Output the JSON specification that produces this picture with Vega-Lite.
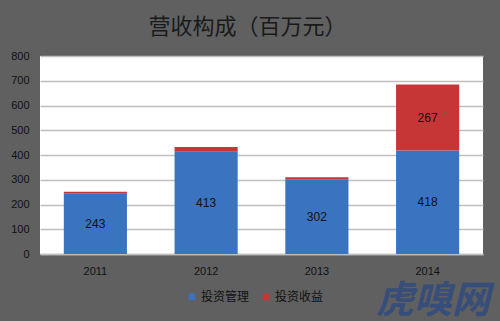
{
  "$schema": "https://vega.github.io/schema/vega-lite/v6.json",
  "width": 443,
  "height": 198,
  "autosize": {"type": "none"},
  "padding": {"left": 40, "top": 56, "right": 17, "bottom": 67},
  "background": "#606060",
  "title": {"text": "营收构成（百万元）", "fontSize": 22, "font": "Noto Sans CJK SC", "fontWeight": "normal", "color": "#1a1a1a", "anchor": "middle", "offset": 11, "dx": -14},
  "config": {
    "view": {"fill": "white", "stroke": null},
    "font": "Liberation Sans"
  },
  "data": {"values": [
    {"year": "2011", "series": "投资管理", "value": 243},
    {"year": "2011", "series": "投资收益", "value": 9},
    {"year": "2012", "series": "投资管理", "value": 413},
    {"year": "2012", "series": "投资收益", "value": 19},
    {"year": "2013", "series": "投资管理", "value": 302},
    {"year": "2013", "series": "投资收益", "value": 8},
    {"year": "2014", "series": "投资管理", "value": 418},
    {"year": "2014", "series": "投资收益", "value": 267}
  ]},
  "transform": [
    {"stack": "value", "groupby": ["year"], "sort": [{"field": "series", "order": "descending"}], "as": ["v0", "v1"]}
  ],
  "resolve": {"axis": {"y": "independent"}},
  "layer": [
    {
      "mark": {"type": "bar"},
      "encoding": {
        "x": {"field": "year", "type": "nominal", "scale": {"paddingInner": 0.43, "paddingOuter": 0.215},
          "axis": {"title": null, "labelAngle": 0, "labelFontSize": 11, "labelColor": "#111", "labelPadding": 11, "ticks": false, "domainColor": "#bfbfbf", "domainWidth": 1.5}},
        "y": {"field": "v0", "type": "quantitative", "scale": {"domain": [0, 800]},
          "axis": {"title": null, "values": [0, 100, 200, 300, 400, 500, 600, 700, 800], "labelOverlap": false, "labelFontSize": 11, "labelColor": "#111", "labelPadding": 11, "ticks": false, "domain": false, "gridColor": "#bfbfbf", "gridWidth": 1.5}},
        "y2": {"field": "v1"},
        "color": {"field": "series", "type": "nominal",
          "scale": {"domain": ["投资管理", "投资收益"], "range": ["#3a73c0", "#c63636"]},
          "legend": {"title": null, "orient": "none", "legendX": 146, "legendY": 235, "direction": "horizontal", "symbolType": "square", "symbolSize": 45, "symbolStrokeWidth": 0, "labelFontSize": 12, "labelFont": "Noto Sans CJK SC", "labelColor": "#111", "columnPadding": 10, "labelOffset": 3}}
      }
    },
    {
      "transform": [{"filter": "datum.value > 50"}, {"calculate": "(datum.v0 + datum.v1) / 2", "as": "mid"}],
      "mark": {"type": "text", "fontSize": 12, "color": "#111"},
      "encoding": {
        "x": {"field": "year", "type": "nominal"},
        "y": {"field": "mid", "type": "quantitative", "axis": null},
        "text": {"field": "value", "type": "quantitative"}
      }
    },
    {
      "data": {"values": [{"year": "2014", "mark": "虎嗅网"}]},
      "mark": {"type": "text", "fontSize": 38, "fontStyle": "italic", "fontWeight": "bold", "font": "Noto Sans CJK SC", "color": "#2f4b7e", "opacity": 0.85, "dx": 5},
      "encoding": {
        "x": {"field": "year", "type": "nominal"},
        "y": {"datum": -192, "axis": null},
        "text": {"field": "mark"}
      }
    }
  ]
}
